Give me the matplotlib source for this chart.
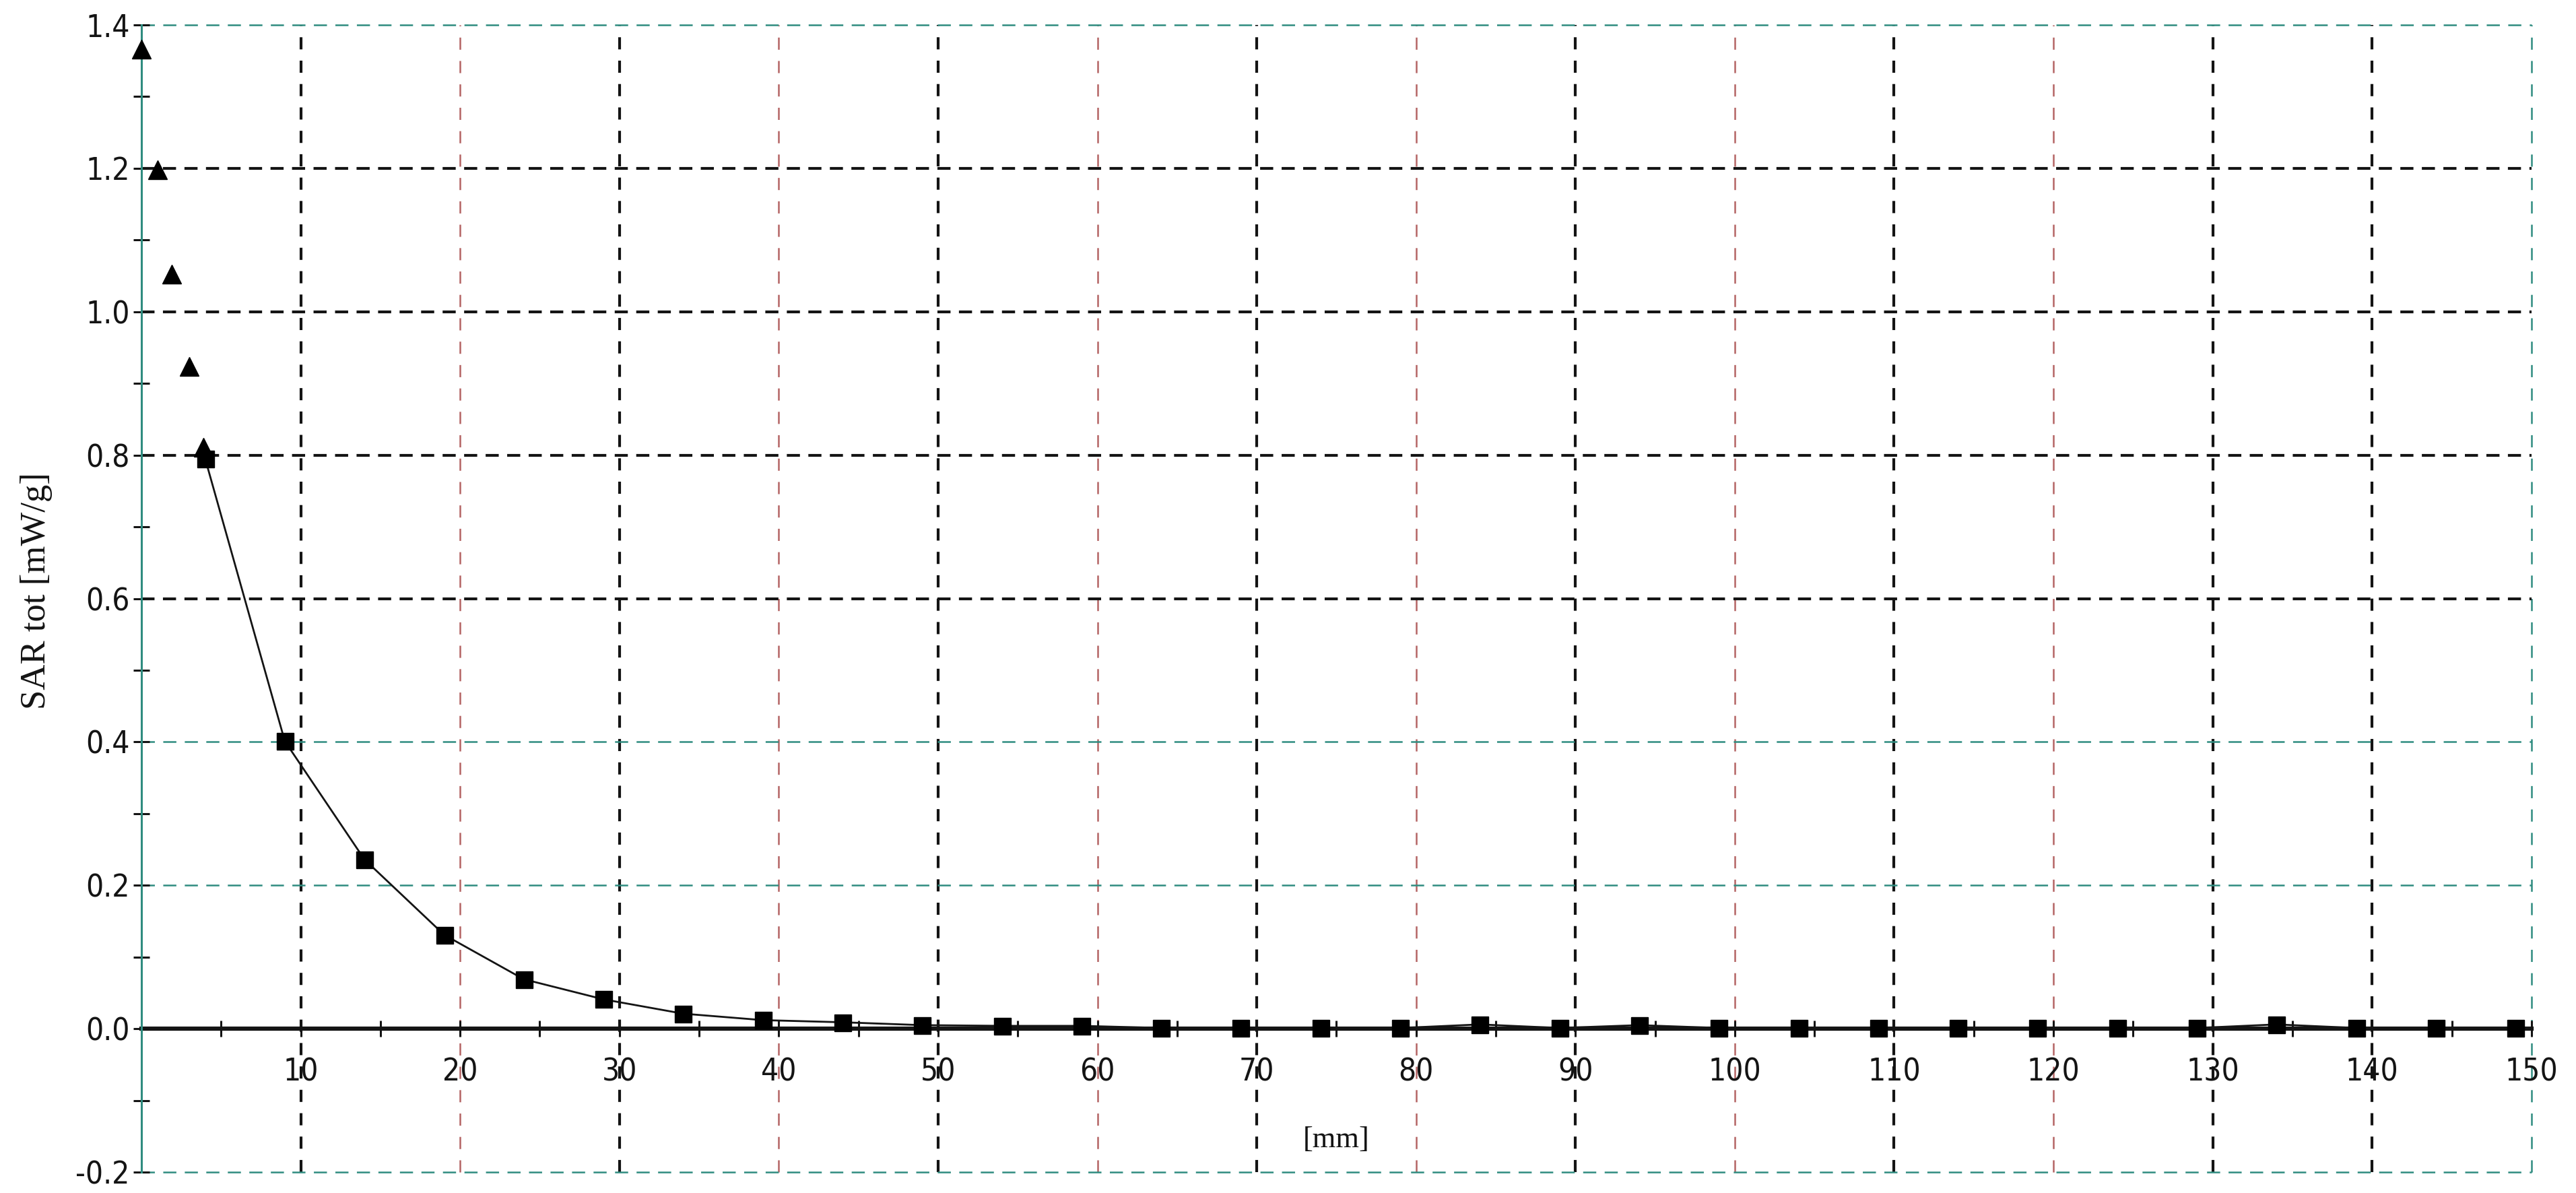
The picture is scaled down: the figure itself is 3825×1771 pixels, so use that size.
import matplotlib
matplotlib.use("Agg")
import matplotlib.pyplot as plt
from matplotlib import font_manager
import numpy as np

# triangles near the surface (measured points)
tri_x = [0.0, 1.0, 1.9, 3.0, 3.9]
tri_y = [1.366, 1.198, 1.052, 0.924, 0.811]

# squares along the depth profile
sq_x = [4, 9, 14, 19, 24, 29, 34, 39, 44, 49, 54, 59, 64, 69, 74, 79,
        84, 89, 94, 99, 104, 109, 114, 119, 124, 129, 134, 139, 144, 149]
sq_y = [0.795, 0.401, 0.236, 0.131, 0.069, 0.041, 0.021, 0.012, 0.009,
        0.005, 0.004, 0.004, 0.001, 0.001, 0.001, 0.001, 0.006, 0.001,
        0.005, 0.001, 0.001, 0.001, 0.001, 0.001, 0.001, 0.001, 0.006,
        0.001, 0.001, 0.001]

x_ticks = list(range(10, 151, 10))
y_ticks = [-0.2, 0.0, 0.2, 0.4, 0.6, 0.8, 1.0, 1.2, 1.4]

plt.rcParams['lines.scale_dashes'] = False

BLACK = '#141414'
TEAL = '#2f8c80'
RED = '#b46464'

# condensed face if there is one, else plain DejaVu Sans
cond = [f.name for f in font_manager.fontManager.ttflist
        if 'Condensed' in f.fname and 'DejaVuSans' in f.fname.replace(' ', '')]
tick_kw = dict(family='DejaVu Sans', stretch='condensed') if cond else dict(family='DejaVu Sans')
tick_size = 33 if cond else 29

fig = plt.figure(figsize=(38.25, 17.71), dpi=100)
ax = fig.add_axes([0.0549, 0.0175, 0.9278, 0.9616])

ax.set_xlim(0, 150)
ax.set_ylim(-0.2, 1.4)

# vertical grid lines, colours as they came out of the scan
vcol = {10: BLACK, 30: BLACK, 50: BLACK, 70: BLACK, 90: BLACK, 110: BLACK,
        130: BLACK, 140: BLACK, 150: TEAL}
for xv in x_ticks:
    c = vcol.get(xv, RED)
    lw = 3.0 if c == BLACK else 1.8
    ax.axvline(xv, color=c, lw=lw, ls=(0, (13, 12)), zorder=1, clip_on=False)

hcol = {1.4: TEAL, 1.2: BLACK, 1.0: BLACK, 0.8: BLACK, 0.6: BLACK,
        0.4: TEAL, 0.2: TEAL, -0.2: TEAL}
for yv, c in hcol.items():
    lw = 3.0 if c == BLACK else 1.8
    ax.axhline(yv, color=c, lw=lw, ls=(0, (14, 9)), zorder=1, clip_on=False)

ax.plot(sq_x, sq_y, color=BLACK, lw=2.0, zorder=3)
ax.plot(sq_x, sq_y, ls='none', marker='s', ms=18, color='black', zorder=4)
ax.plot(tri_x, tri_y, ls='none', marker='^', ms=20, color='black', zorder=4,
        clip_on=False)

for s in ['top', 'right']:
    ax.spines[s].set_visible(False)
ax.spines['bottom'].set_position(('data', 0))
ax.spines['bottom'].set_color(BLACK)
ax.spines['bottom'].set_linewidth(4.5)
ax.spines['bottom'].set_zorder(2)
ax.spines['left'].set_color(TEAL)
ax.spines['left'].set_linewidth(2.2)

ax.set_xticks(x_ticks)
ax.set_xticks(np.arange(5, 150, 10), minor=True)
ax.set_yticks(y_ticks)
ax.set_yticks(np.arange(-0.1, 1.4, 0.2), minor=True)

ax.set_xticklabels([str(v) for v in x_ticks])
ax.set_yticklabels(['%.1f' % v for v in y_ticks])

ax.tick_params(axis='both', which='both', direction='inout', length=17,
               width=2.2, color=BLACK, labelcolor=BLACK)
ax.tick_params(axis='x', which='major', pad=22)
ax.tick_params(axis='y', which='major', pad=4)
for lab in ax.get_xticklabels() + ax.get_yticklabels():
    lab.set(**tick_kw)
    lab.set_fontsize(tick_size)

ax.text(75, -0.155, '[mm]', ha='center', va='center', fontsize=32,
        family='Liberation Serif', color=BLACK)
fig.text(0.014, 0.505, 'SAR tot [mW/g]', rotation=90, ha='center',
         va='center', fontsize=38, family='Liberation Serif', color=BLACK)

fig.savefig('out.png', dpi=100, facecolor='white')
